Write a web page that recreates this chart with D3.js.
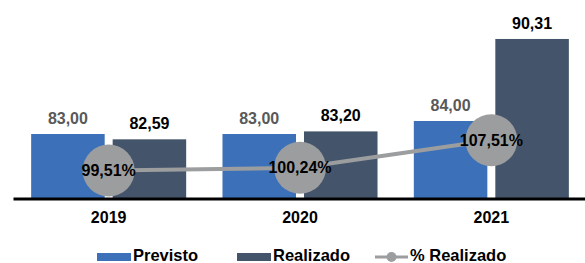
<!DOCTYPE html>
<html>
<head>
<meta charset="utf-8">
<script src="https://cdn.jsdelivr.net/npm/d3@7"></script>
<style>
  body { margin: 0; background: #fff; }
  text { font-family: Arial, "Liberation Sans", sans-serif; font-weight: bold; }
</style>
</head>
<body>
<div id="chart"></div>
<script>
const years = ["2019", "2020", "2021"];
const seriesNames = ["Previsto", "Realizado"];
const previsto = [83.00, 83.00, 84.00];
const realizado = [82.59, 83.20, 90.31];
const pctRealizado = [99.51, 100.24, 107.51];

const c_width = 585;
const c_height = 263;
const colors = {Previsto: "#3c70b8", Realizado: "#44546a"};
const labelColors = {Previsto: "#595959", Realizado: "#000"};
const pctColor = "#9b9d9f";

const fmt = v => v.toFixed(2).replace(".", ",");

const svg = d3.select("#chart").append("svg")
    .attr("width", c_width)
    .attr("height", c_height);

// grupos por ano
const xScale = d3.scaleBand().domain(years).range([13, 587]).padding(0);
const xInner = d3.scaleBand().domain(seriesNames)
    .range([0, xScale.bandwidth()])
    .paddingInner(0.098).paddingOuter(0.2227);

// eixo primario (valores) e secundario (%)
const yScale = d3.scaleLinear().domain([78, 92]).range([199, 17]);
const yPct = d3.scaleLinear().domain([92, 140]).range([199, 17]);

const rows = years.map((y, i) => ({
    year: y,
    vals: [{key: "Previsto", v: previsto[i]}, {key: "Realizado", v: realizado[i]}]
}));

const groups = svg.selectAll("g.grp")
    .data(rows)
    .enter().append("g")
    .attr("class", "grp")
    .attr("transform", d => "translate(" + xScale(d.year) + ",0)");

groups.selectAll("rect")
    .data(d => d.vals)
    .enter().append("rect")
    .attr("x", d => xInner(d.key))
    .attr("y", d => yScale(d.v))
    .attr("width", xInner.bandwidth())
    .attr("height", d => yScale.range()[0] - yScale(d.v))
    .attr("fill", d => colors[d.key]);

groups.selectAll("text.val")
    .data(d => d.vals)
    .enter().append("text")
    .attr("class", "val")
    .attr("x", d => xInner(d.key) + xInner.bandwidth() / 2)
    .attr("y", d => yScale(d.v) - 10)
    .attr("text-anchor", "middle")
    .attr("font-size", 16)
    .attr("fill", d => labelColors[d.key])
    .text(d => fmt(d.v));

// eixo x
const xAxis = svg.append("g")
    .attr("transform", "translate(0,198.5)")
    .call(d3.axisBottom(xScale).tickSize(0).tickPadding(13));
xAxis.select(".domain").attr("stroke", "#000").attr("stroke-width", 3);
xAxis.selectAll("text")
    .attr("font-size", 16)
    .attr("font-family", "Arial, 'Liberation Sans', sans-serif")
    .attr("font-weight", "bold")
    .attr("fill", "#000");

// linha % realizado
const cx = d => xScale(d.year) + xScale.bandwidth() / 2;
const pctData = years.map((y, i) => ({year: y, v: pctRealizado[i]}));

svg.append("path")
    .datum(pctData)
    .attr("fill", "none")
    .attr("stroke", pctColor)
    .attr("stroke-width", 4)
    .attr("d", d3.line().x(cx).y(d => yPct(d.v)));

svg.selectAll("circle.pct")
    .data(pctData)
    .enter().append("circle")
    .attr("class", "pct")
    .attr("cx", cx)
    .attr("cy", d => yPct(d.v))
    .attr("r", 26)
    .attr("fill", pctColor);

svg.selectAll("text.pct")
    .data(pctData)
    .enter().append("text")
    .attr("class", "pct")
    .attr("x", cx)
    .attr("y", d => yPct(d.v) + 5.5)
    .attr("text-anchor", "middle")
    .attr("font-size", 16)
    .attr("fill", "#000")
    .text(d => fmt(d.v) + "%");

// legenda
const legend = svg.append("g");
const legendItems = [
    {name: "Previsto", x: 97},
    {name: "Realizado", x: 237}
];
legendItems.forEach(it => {
    legend.append("rect")
        .attr("x", it.x).attr("y", 253)
        .attr("width", 34).attr("height", 8)
        .attr("fill", colors[it.name]);
    legend.append("text")
        .attr("x", it.x + 36).attr("y", 261)
        .attr("font-size", 16.5)
        .attr("fill", "#000")
        .text(it.name);
});
legend.append("line")
    .attr("x1", 375).attr("x2", 408)
    .attr("y1", 257).attr("y2", 257)
    .attr("stroke", pctColor).attr("stroke-width", 3);
legend.append("circle")
    .attr("cx", 391.5).attr("cy", 257).attr("r", 5)
    .attr("fill", pctColor);
legend.append("text")
    .attr("x", 410).attr("y", 261)
    .attr("font-size", 16.5)
    .attr("fill", "#000")
    .text("% " + seriesNames[1]);
</script>
</body>
</html>
